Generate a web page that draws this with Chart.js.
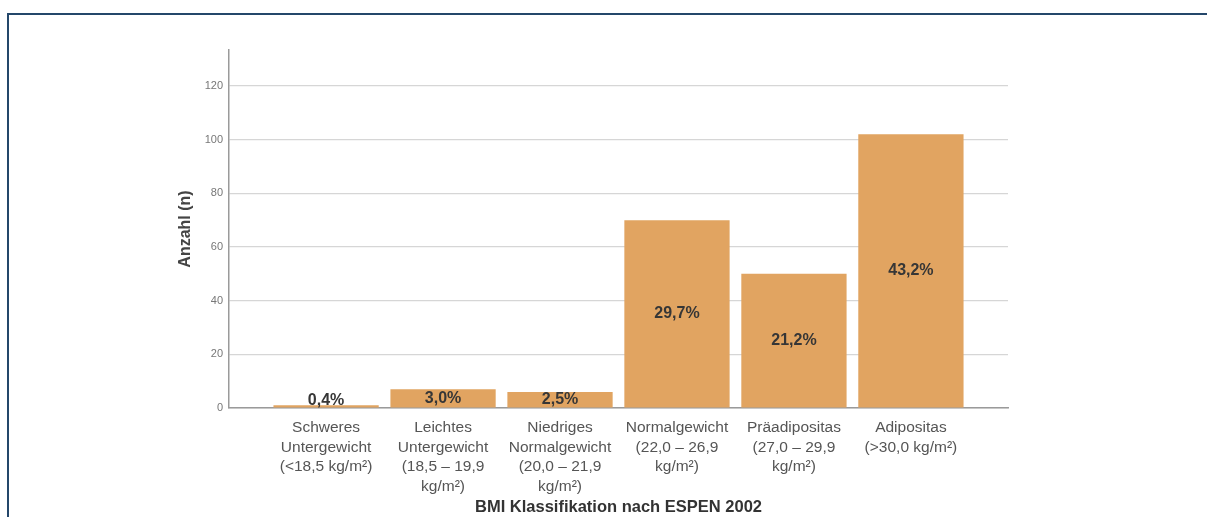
<!DOCTYPE html>
<html lang="de">
<head>
<meta charset="utf-8">
<title>BMI Klassifikation nach ESPEN 2002</title>
<script src="https://cdn.jsdelivr.net/npm/chart.js@4.4.1/dist/chart.umd.min.js"></script>
<style>
  html, body { margin: 0; padding: 0; background: #ffffff; overflow: hidden; }
  body { width: 1207px; height: 517px; position: relative; }
  #frame {
    position: absolute; left: 7px; top: 13px;
    width: 1300px; height: 600px;
    border: 2px solid #24476a;
    box-sizing: border-box;
  }
  #chart { position: absolute; left: 0; top: 0; }
</style>
</head>
<body>
<div id="frame"></div>
<canvas id="chart" width="1207" height="517"></canvas>
<script>
// BMI classes (ESPEN 2002), one multi-line label each
const categories = [
  ["Schweres", "Untergewicht", "(<18,5 kg/m²)"],
  ["Leichtes", "Untergewicht", "(18,5 – 19,9", "kg/m²)"],
  ["Niedriges", "Normalgewicht", "(20,0 – 21,9", "kg/m²)"],
  ["Normalgewicht", "(22,0 – 26,9", "kg/m²)"],
  ["Präadipositas", "(27,0 – 29,9", "kg/m²)"],
  ["Adipositas", "(>30,0 kg/m²)"]
];

// number of patients per class
const counts = [1, 7, 6, 70, 50, 102];

// y-axis range and tick step
const yMax = 133.4;
const yStep = 20;

const total = counts.reduce((a, b) => a + b, 0);
const FONT = "'Liberation Sans', Arial, Helvetica, sans-serif";

// percentage of all patients, printed on each bar
const barLabels = {
  id: 'barLabels',
  afterDatasetsDraw(chart) {
    const { ctx } = chart;
    const meta = chart.getDatasetMeta(0);
    ctx.save();
    ctx.font = 'bold 16px ' + FONT;
    ctx.fillStyle = '#363636';
    ctx.textAlign = 'center';
    ctx.textBaseline = 'middle';
    meta.data.forEach((bar, i) => {
      const pct = (counts[i] / total * 100).toFixed(1).replace('.', ',') + '%';
      const y = Math.min((bar.y + bar.base) / 2, bar.base - 7);
      ctx.fillText(pct, bar.x, y);
    });
    ctx.restore();
  }
};

new Chart(document.getElementById('chart'), {
  type: 'bar',
  data: {
    datasets: [{
      label: 'Anzahl',
      data: counts.map((v, i) => ({ x: i, y: v })),
      backgroundColor: '#E1A461',
      borderWidth: 0,
      categoryPercentage: 1,
      barPercentage: 0.9
    }]
  },
  options: {
    responsive: false,
    animation: false,
    devicePixelRatio: 1,
    layout: { padding: { left: 176, right: 199, top: 50, bottom: 0 } },
    plugins: { legend: { display: false }, tooltip: { enabled: false } },
    scales: {
      x: {
        type: 'linear',
        offset: false,
        min: -0.83,
        max: 5.83,
        afterFit(scale) { scale.height = 109; },
        grid: { display: false, drawTicks: false, offset: false },
        border: { display: true, color: '#9a9a9a', width: 1.5 },
        ticks: {
          stepSize: 1,
          includeBounds: false,
          autoSkip: false,
          maxRotation: 0,
          minRotation: 0,
          padding: 10,
          color: '#555555',
          font: { family: FONT, size: 15.5, lineHeight: 1.26 },
          callback: (value) => Number.isInteger(value) ? categories[value] : ''
        },
        title: {
          display: true,
          text: 'BMI Klassifikation nach ESPEN 2002',
          color: '#333333',
          font: { family: FONT, size: 16.5, weight: 'bold', lineHeight: 1.2 },
          padding: { top: 0, bottom: 0 }
        }
      },
      y: {
        min: 0,
        max: yMax,
        afterFit(scale) { scale.width = 53; },
        grid: { color: '#d6d6d6', lineWidth: 1.2, drawTicks: false },
        border: { display: true, color: '#9a9a9a', width: 1.5 },
        ticks: {
          stepSize: yStep,
          includeBounds: false,
          padding: 6,
          color: '#777777',
          font: { family: FONT, size: 11 }
        },
        title: {
          display: true,
          text: 'Anzahl (n)',
          color: '#444444',
          font: { family: FONT, size: 16, weight: 'bold', lineHeight: 1.2 },
          padding: { top: 0, bottom: 0 }
        }
      }
    }
  },
  plugins: [barLabels]
});
</script>
</body>
</html>
